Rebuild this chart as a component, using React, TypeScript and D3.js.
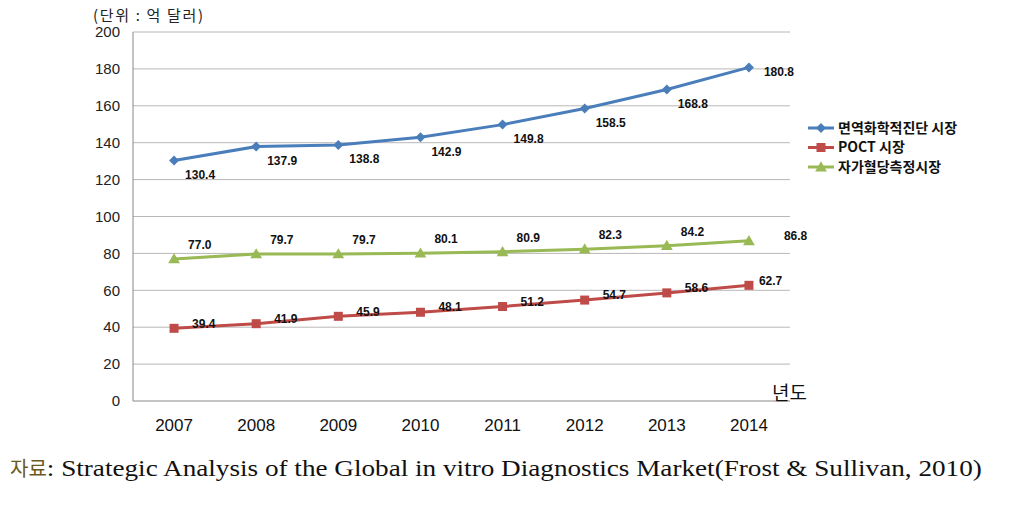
import * as d3 from "d3";

const years = ["2007", "2008", "2009", "2010", "2011", "2012", "2013", "2014"];
const immuno = [130.4, 137.9, 138.8, 142.9, 149.8, 158.5, 168.8, 180.8];
const poct = [39.4, 41.9, 45.9, 48.1, 51.2, 54.7, 58.6, 62.7];
const glucose = [77.0, 79.7, 79.7, 80.1, 80.9, 82.3, 84.2, 86.8];
const yTicks = [0, 20, 40, 60, 80, 100, 120, 140, 160, 180, 200];
const seriesNames = ["면역화학적진단 시장", "POCT 시장", "자가혈당측정시장"];

const W = 1017;
const H = 509;
const margin = { left: 133, right: 227, top: 32, bottom: 108 };

const x = d3
  .scaleBand()
  .domain(years)
  .range([margin.left, W - margin.right]);

const y = d3
  .scaleLinear()
  .domain([0, 200])
  .range([H - margin.bottom, margin.top]);

const korFont = "'Noto Sans CJK KR', 'Noto Sans', sans-serif";
const numFont = "'Liberation Sans', Arial, sans-serif";

type Series = {
  name: string;
  values: number[];
  color: string;
  marker: "diamond" | "square" | "triangle";
  // label offsets: normal points and last point
  off: [number, number];
  lastOff: [number, number];
};

const series: Series[] = [
  { name: seriesNames[0], values: immuno, color: "#4a7ebb", marker: "diamond", off: [11, 14], lastOff: [15, 4] },
  { name: seriesNames[1], values: poct, color: "#be4b48", marker: "square", off: [18, -5], lastOff: [10, -5] },
  { name: seriesNames[2], values: glucose, color: "#98b954", marker: "triangle", off: [14, -14], lastOff: [35, -5] },
];

const cx = (i: number) => (x(years[i]) ?? 0) + x.bandwidth() / 2;

function Marker({ kind, px, py, color }: { kind: string; px: number; py: number; color: string }) {
  if (kind === "diamond") {
    const r = 5;
    return <path d={`M${px},${py - r}L${px + r},${py}L${px},${py + r}L${px - r},${py}Z`} fill={color} />;
  }
  if (kind === "square") {
    const s = 9;
    return <rect x={px - s / 2} y={py - s / 2} width={s} height={s} fill={color} />;
  }
  const path = d3.symbol(d3.symbolTriangle, 60)();
  return <path d={path ?? ""} transform={`translate(${px},${py + 1})`} fill={color} />;
}

export default function App() {
  const line = d3
    .line<number>()
    .x((_, i) => cx(i))
    .y((d) => y(d));

  return (
    <svg
      width={W}
      height={H}
      style={{ position: "absolute", left: 0, top: 0, background: "#fff" }}
    >
      <rect width={W} height={H} fill="#fff" />
      {/* unit label */}
      <text x={93} y={21} fontFamily={korFont} fontSize={15} fill="#222" textLength={110} lengthAdjust="spacing">
        (단위 : 억 달러)
      </text>

      {/* grid lines */}
      {yTicks.map((t) => (
        <g key={t}>
          {t > 0 && (
            <line
              x1={margin.left}
              x2={W - margin.right}
              y1={y(t)}
              y2={y(t)}
              stroke="#b8b8b8"
              strokeWidth={1}
            />
          )}
          <text
            x={120}
            y={y(t)}
            dy="0.35em"
            textAnchor="end"
            fontFamily={numFont}
            fontSize={15}
            fill="#222"
          >
            {t}
          </text>
        </g>
      ))}

      {/* axes */}
      <line x1={margin.left} x2={margin.left} y1={y(200)} y2={y(0)} stroke="#888" />
      <line x1={margin.left} x2={W - margin.right} y1={y(0)} y2={y(0)} stroke="#888" />

      {years.map((yr, i) => (
        <text
          key={yr}
          x={cx(i)}
          y={431}
          textAnchor="middle"
          fontFamily={numFont}
          fontSize={17}
          fill="#111"
        >
          {yr}
        </text>
      ))}

      <text x={772} y={400} fontFamily={korFont} fontSize={19} fill="#111">
        년도
      </text>

      {/* series */}
      {series.map((s) => (
        <g key={s.name}>
          <path d={line(s.values) ?? ""} fill="none" stroke={s.color} strokeWidth={3} />
          {s.values.map((v, i) => (
            <Marker key={i} kind={s.marker} px={cx(i)} py={y(v)} color={s.color} />
          ))}
          {s.values.map((v, i) => {
            const o = i === s.values.length - 1 ? s.lastOff : s.off;
            return (
              <text
                key={"l" + i}
                x={cx(i) + o[0]}
                y={y(v) + o[1]}
                dy="0.35em"
                fontFamily={numFont}
                fontSize={12}
                fontWeight="bold"
                fill="#111"
              >
                {v.toFixed(1)}
              </text>
            );
          })}
        </g>
      ))}

      {/* legend */}
      {series.map((s, i) => {
        const ly = 128 + i * 19.5;
        return (
          <g key={"leg" + i}>
            <line x1={808} x2={834} y1={ly} y2={ly} stroke={s.color} strokeWidth={3} />
            <Marker kind={s.marker} px={821} py={ly} color={s.color} />
            <text
              x={838}
              y={ly}
              dy="0.35em"
              fontFamily={korFont}
              fontSize={14}
              fontWeight="bold"
              fill="#111"
            >
              {s.name}
            </text>
          </g>
        );
      })}

      {/* source */}
      <text x={10} y={476} fontSize={23} fill="#111" fontFamily="'Liberation Serif', serif">
        <tspan fontFamily={korFont} fontSize={20} fill="#6b5a1e">자료</tspan>
        <tspan textLength={935} lengthAdjust="spacingAndGlyphs">
          : Strategic Analysis of the Global in vitro Diagnostics Market(Frost &amp; Sullivan, 2010)
        </tspan>
      </text>
    </svg>
  );
}
